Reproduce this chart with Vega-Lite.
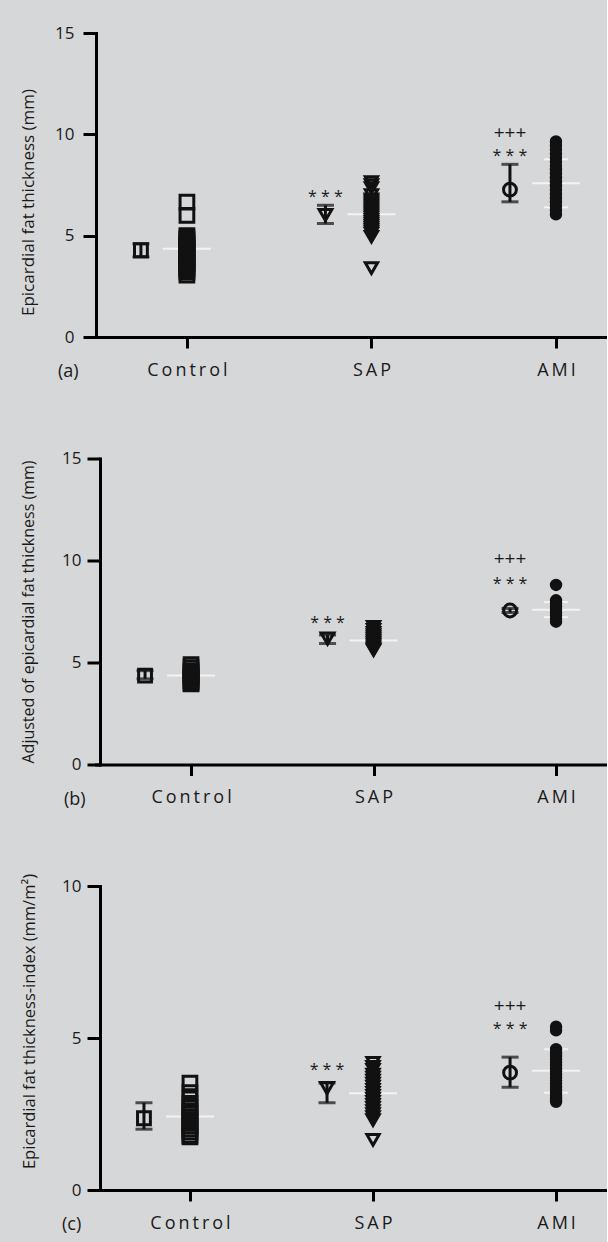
{
"$schema":"https://vega.github.io/schema/vega-lite/v6.json",
"background":"#d6d7d9",
"padding":{"left":19,"top":24,"right":0,"bottom":10},
"config":{"font":"Open Sans","view":{"stroke":null},
 "axis":{"domainColor":"#000","domainWidth":3,"domainCap":"square","tickColor":"#000","tickWidth":3,"grid":false,"labelColor":"#1a1a1a","titleColor":"#1a1a1a","labelFont":"Open Sans","titleFont":"Open Sans","titleFontWeight":"normal","labelFontSize":17},
 "axisX":{"title":null,"labelAngle":0,"tickSize":11,"labelPadding":13,"labelFontSize":18,"labelExpr":"join(split(datum.label,''),'\u2009')"},
 "title":{"font":"Open Sans","fontSize":18,"fontWeight":"normal","color":"#1a1a1a"}},
"datasets":{
"points":[
{"p":"a","g":"Control","v":6.65},{"p":"a","g":"Control","v":6.0},{"p":"a","g":"Control","v":5.0},{"p":"a","g":"Control","v":4.9},{"p":"a","g":"Control","v":4.8},{"p":"a","g":"Control","v":4.7},{"p":"a","g":"Control","v":4.6},{"p":"a","g":"Control","v":4.5},{"p":"a","g":"Control","v":4.4},{"p":"a","g":"Control","v":4.3},{"p":"a","g":"Control","v":4.2},{"p":"a","g":"Control","v":4.1},{"p":"a","g":"Control","v":4.0},{"p":"a","g":"Control","v":3.9},{"p":"a","g":"Control","v":3.8},{"p":"a","g":"Control","v":3.7},{"p":"a","g":"Control","v":3.6},{"p":"a","g":"Control","v":3.5},{"p":"a","g":"Control","v":3.4},{"p":"a","g":"Control","v":3.3},{"p":"a","g":"Control","v":3.2},{"p":"a","g":"Control","v":3.05},
{"p":"a","g":"SAP","v":7.65},{"p":"a","g":"SAP","v":7.5},{"p":"a","g":"SAP","v":7.35},{"p":"a","g":"SAP","v":7.0},{"p":"a","g":"SAP","v":6.8},{"p":"a","g":"SAP","v":6.7},{"p":"a","g":"SAP","v":6.6},{"p":"a","g":"SAP","v":6.5},{"p":"a","g":"SAP","v":6.4},{"p":"a","g":"SAP","v":6.3},{"p":"a","g":"SAP","v":6.2},{"p":"a","g":"SAP","v":6.1},{"p":"a","g":"SAP","v":6.0},{"p":"a","g":"SAP","v":5.9},{"p":"a","g":"SAP","v":5.8},{"p":"a","g":"SAP","v":5.7},{"p":"a","g":"SAP","v":5.6},{"p":"a","g":"SAP","v":5.5},{"p":"a","g":"SAP","v":5.4},{"p":"a","g":"SAP","v":5.3},{"p":"a","g":"SAP","v":5.2},{"p":"a","g":"SAP","v":5.1},{"p":"a","g":"SAP","v":4.95},{"p":"a","g":"SAP","v":3.4},
{"p":"a","g":"AMI","v":9.65},{"p":"a","g":"AMI","v":9.45},{"p":"a","g":"AMI","v":9.25},{"p":"a","g":"AMI","v":9.05},{"p":"a","g":"AMI","v":8.85},{"p":"a","g":"AMI","v":8.65},{"p":"a","g":"AMI","v":8.45},{"p":"a","g":"AMI","v":8.25},{"p":"a","g":"AMI","v":8.05},{"p":"a","g":"AMI","v":7.85},{"p":"a","g":"AMI","v":7.65},{"p":"a","g":"AMI","v":7.45},{"p":"a","g":"AMI","v":7.25},{"p":"a","g":"AMI","v":7.05},{"p":"a","g":"AMI","v":6.85},{"p":"a","g":"AMI","v":6.65},{"p":"a","g":"AMI","v":6.45},{"p":"a","g":"AMI","v":6.25},{"p":"a","g":"AMI","v":6.05},
{"p":"b","g":"Control","v":4.9},{"p":"b","g":"Control","v":4.75},{"p":"b","g":"Control","v":4.6},{"p":"b","g":"Control","v":4.5},{"p":"b","g":"Control","v":4.4},{"p":"b","g":"Control","v":4.3},{"p":"b","g":"Control","v":4.2},{"p":"b","g":"Control","v":4.1},{"p":"b","g":"Control","v":4.0},{"p":"b","g":"Control","v":3.95},
{"p":"b","g":"SAP","v":6.75},{"p":"b","g":"SAP","v":6.6},{"p":"b","g":"SAP","v":6.45},{"p":"b","g":"SAP","v":6.35},{"p":"b","g":"SAP","v":6.25},{"p":"b","g":"SAP","v":6.15},{"p":"b","g":"SAP","v":6.05},{"p":"b","g":"SAP","v":5.95},{"p":"b","g":"SAP","v":5.85},{"p":"b","g":"SAP","v":5.75},{"p":"b","g":"SAP","v":5.65},{"p":"b","g":"SAP","v":5.6},
{"p":"b","g":"AMI","v":8.8},{"p":"b","g":"AMI","v":8.05},{"p":"b","g":"AMI","v":7.9},{"p":"b","g":"AMI","v":7.75},{"p":"b","g":"AMI","v":7.6},{"p":"b","g":"AMI","v":7.45},{"p":"b","g":"AMI","v":7.3},{"p":"b","g":"AMI","v":7.15},{"p":"b","g":"AMI","v":7.0},
{"p":"c","g":"Control","v":3.52},{"p":"c","g":"Control","v":3.2},{"p":"c","g":"Control","v":3.0},{"p":"c","g":"Control","v":2.85},{"p":"c","g":"Control","v":2.7},{"p":"c","g":"Control","v":2.6},{"p":"c","g":"Control","v":2.5},{"p":"c","g":"Control","v":2.4},{"p":"c","g":"Control","v":2.3},{"p":"c","g":"Control","v":2.2},{"p":"c","g":"Control","v":2.1},{"p":"c","g":"Control","v":2.0},{"p":"c","g":"Control","v":1.9},{"p":"c","g":"Control","v":1.8},{"p":"c","g":"Control","v":1.75},
{"p":"c","g":"SAP","v":4.18},{"p":"c","g":"SAP","v":4.05},{"p":"c","g":"SAP","v":3.95},{"p":"c","g":"SAP","v":3.8},{"p":"c","g":"SAP","v":3.7},{"p":"c","g":"SAP","v":3.6},{"p":"c","g":"SAP","v":3.5},{"p":"c","g":"SAP","v":3.4},{"p":"c","g":"SAP","v":3.3},{"p":"c","g":"SAP","v":3.2},{"p":"c","g":"SAP","v":3.1},{"p":"c","g":"SAP","v":3.0},{"p":"c","g":"SAP","v":2.9},{"p":"c","g":"SAP","v":2.8},{"p":"c","g":"SAP","v":2.7},{"p":"c","g":"SAP","v":2.6},{"p":"c","g":"SAP","v":2.5},{"p":"c","g":"SAP","v":2.4},{"p":"c","g":"SAP","v":2.3},{"p":"c","g":"SAP","v":1.65},
{"p":"c","g":"AMI","v":5.37},{"p":"c","g":"AMI","v":5.25},{"p":"c","g":"AMI","v":4.63},{"p":"c","g":"AMI","v":4.5},{"p":"c","g":"AMI","v":4.4},{"p":"c","g":"AMI","v":4.3},{"p":"c","g":"AMI","v":4.2},{"p":"c","g":"AMI","v":4.1},{"p":"c","g":"AMI","v":4.0},{"p":"c","g":"AMI","v":3.9},{"p":"c","g":"AMI","v":3.8},{"p":"c","g":"AMI","v":3.7},{"p":"c","g":"AMI","v":3.6},{"p":"c","g":"AMI","v":3.5},{"p":"c","g":"AMI","v":3.4},{"p":"c","g":"AMI","v":3.3},{"p":"c","g":"AMI","v":3.2},{"p":"c","g":"AMI","v":3.1},{"p":"c","g":"AMI","v":3.0},{"p":"c","g":"AMI","v":2.9}
],
"lines":[
{"p":"a","g":"Control","k":"mean","v":4.35},{"p":"a","g":"SAP","k":"mean","v":6.06},{"p":"a","g":"AMI","k":"mean","v":7.59},{"p":"a","g":"AMI","k":"sd","v":8.77},{"p":"a","g":"AMI","k":"sd","v":6.4},
{"p":"b","g":"Control","k":"mean","v":4.36},{"p":"b","g":"SAP","k":"mean","v":6.08},{"p":"b","g":"AMI","k":"mean","v":7.58},{"p":"b","g":"AMI","k":"sd","v":7.96},{"p":"b","g":"AMI","k":"sd","v":7.22},
{"p":"c","g":"Control","k":"mean","v":2.42},{"p":"c","g":"SAP","k":"mean","v":3.18},{"p":"c","g":"AMI","k":"mean","v":3.92},{"p":"c","g":"AMI","k":"sd","v":4.63},{"p":"c","g":"AMI","k":"sd","v":3.2}
],
"summary":[
{"p":"a","g":"Control","mean":4.28,"lo":3.95,"hi":4.6},{"p":"a","g":"SAP","mean":6.02,"lo":5.6,"hi":6.5},{"p":"a","g":"AMI","mean":7.27,"lo":6.67,"hi":8.52},
{"p":"b","g":"Control","mean":4.36,"lo":4.2,"hi":4.6},{"p":"b","g":"SAP","mean":6.17,"lo":5.93,"hi":6.35},{"p":"b","g":"AMI","mean":7.55,"lo":7.45,"hi":7.65},
{"p":"c","g":"Control","mean":2.36,"lo":2.0,"hi":2.87},{"p":"c","g":"SAP","mean":3.35,"lo":2.87,"hi":3.52},{"p":"c","g":"AMI","mean":3.86,"lo":3.38,"hi":4.37}
],
"notes":[
{"p":"a","g":"SAP","v":7.05,"t":"* * *"},{"p":"a","g":"AMI","v":10.08,"t":"+++"},{"p":"a","g":"AMI","v":9.1,"t":"* * *"},
{"p":"b","g":"SAP","v":7.06,"t":"* * *"},{"p":"b","g":"AMI","v":10.05,"t":"+++"},{"p":"b","g":"AMI","v":8.99,"t":"* * *"},
{"p":"c","g":"SAP","v":4.04,"t":"* * *"},{"p":"c","g":"AMI","v":6.06,"t":"+++"},{"p":"c","g":"AMI","v":5.4,"t":"* * *"}
]
},
"concat":[
{
 "width":510,"height":304,
 "title":{"text":"(a)","orient":"bottom","anchor":"start","frame":"group","dx":-38,"dy":-20},
 "encoding":{"x":{"field":"g","type":"nominal","scale":{"type":"point","domain":["Control","SAP","AMI"],"padding":0.382,"align":0.645}}},
 "layer":[
  {"data":{"name":"lines"},"transform":[{"filter":"datum.p==='a' && datum.k==='mean'"}],"mark":{"type":"tick","color":"#ffffff","size":48,"thickness":2,"orient":"horizontal"},
   "encoding":{"y":{"field":"v","type":"quantitative","scale":{"domain":[0,15],"nice":false},"axis":{"title":"Epicardial fat thickness (mm)","values":[0,5,10,15],"tickSize":13,"labelPadding":9,"titlePadding":17,"titleFontSize":17,"titleY":169}}}},
  {"data":{"name":"lines"},"transform":[{"filter":"datum.p==='a' && datum.k==='sd'"}],"mark":{"type":"tick","color":"#ffffff","size":24,"thickness":2,"orient":"horizontal"},"encoding":{"y":{"field":"v","type":"quantitative"}}},
  {"data":{"name":"points"},"transform":[{"filter":"datum.p==='a' && datum.g==='Control'"}],"mark":{"type":"point","shape":"square","size":188,"filled":false,"stroke":"#111","strokeWidth":3,"opacity":1},"encoding":{"y":{"field":"v","type":"quantitative"}}},
  {"data":{"name":"points"},"transform":[{"filter":"datum.p==='a' && datum.g==='SAP'"}],"mark":{"type":"point","shape":"triangle-down","size":150,"filled":false,"stroke":"#111","strokeWidth":3,"opacity":1},"encoding":{"y":{"field":"v","type":"quantitative"}}},
  {"data":{"name":"points"},"transform":[{"filter":"datum.p==='a' && datum.g==='AMI'"}],"mark":{"type":"point","shape":"circle","size":154,"filled":true,"color":"#111","opacity":1},"encoding":{"y":{"field":"v","type":"quantitative"}}},
  {"data":{"name":"summary"},"transform":[{"filter":"datum.p==='a'"}],"mark":{"type":"rule","color":"#111","strokeWidth":3,"xOffset":-46},"encoding":{"y":{"field":"lo","type":"quantitative"},"y2":{"field":"hi"}}},
  {"data":{"name":"summary"},"transform":[{"filter":"datum.p==='a'"}],"mark":{"type":"tick","color":"#111","size":17,"thickness":3,"orient":"horizontal","xOffset":-46},"encoding":{"y":{"field":"lo","type":"quantitative"}}},
  {"data":{"name":"summary"},"transform":[{"filter":"datum.p==='a'"}],"mark":{"type":"tick","color":"#111","size":17,"thickness":3,"orient":"horizontal","xOffset":-46},"encoding":{"y":{"field":"hi","type":"quantitative"}}},
  {"data":{"name":"summary"},"transform":[{"filter":"datum.p==='a'"}],"mark":{"type":"point","size":165,"filled":false,"stroke":"#111","strokeWidth":3,"opacity":1,"xOffset":-46},"encoding":{"y":{"field":"mean","type":"quantitative"},"shape":{"field":"g","type":"nominal","scale":{"domain":["Control","SAP","AMI"],"range":["square","triangle-down","circle"]},"legend":null}}},
  {"data":{"name":"notes"},"transform":[{"filter":"datum.p==='a' && datum.t==='* * *'"}],"mark":{"type":"text","fontSize":16,"color":"#1a1a1a","xOffset":-46,"baseline":"middle","dy":3},"encoding":{"y":{"field":"v","type":"quantitative"},"text":{"field":"t"}}},
  {"data":{"name":"notes"},"transform":[{"filter":"datum.p==='a' && datum.t==='+++'"}],"mark":{"type":"text","fontSize":19,"color":"#1a1a1a","xOffset":-46,"baseline":"middle","dy":0},"encoding":{"y":{"field":"v","type":"quantitative"},"text":{"field":"t"}}}
 ]
},
{
 "width":511,"height":306,
 "title":{"text":"(b)","orient":"bottom","anchor":"start","frame":"group","dx":-32,"dy":-20},
 "encoding":{"x":{"field":"g","type":"nominal","scale":{"type":"point","domain":["Control","SAP","AMI"],"padding":0.4,"align":0.651}}},
 "layer":[
  {"data":{"name":"lines"},"transform":[{"filter":"datum.p==='b' && datum.k==='mean'"}],"mark":{"type":"tick","color":"#ffffff","size":48,"thickness":2,"orient":"horizontal"},
   "encoding":{"y":{"field":"v","type":"quantitative","scale":{"domain":[0,15],"nice":false},"axis":{"title":"Adjusted of epicardial fat thickness (mm)","values":[0,5,10,15],"offset":-4,"tickSize":13,"labelPadding":6,"titlePadding":25,"titleFontSize":16}}}},
  {"data":{"name":"lines"},"transform":[{"filter":"datum.p==='b' && datum.k==='sd'"}],"mark":{"type":"tick","color":"#ffffff","size":24,"thickness":2,"orient":"horizontal"},"encoding":{"y":{"field":"v","type":"quantitative"}}},
  {"data":{"name":"points"},"transform":[{"filter":"datum.p==='b' && datum.g==='Control'"}],"mark":{"type":"point","shape":"square","size":188,"filled":false,"stroke":"#111","strokeWidth":3,"opacity":1},"encoding":{"y":{"field":"v","type":"quantitative"}}},
  {"data":{"name":"points"},"transform":[{"filter":"datum.p==='b' && datum.g==='SAP'"}],"mark":{"type":"point","shape":"triangle-down","size":150,"filled":false,"stroke":"#111","strokeWidth":3,"opacity":1},"encoding":{"y":{"field":"v","type":"quantitative"}}},
  {"data":{"name":"points"},"transform":[{"filter":"datum.p==='b' && datum.g==='AMI'"}],"mark":{"type":"point","shape":"circle","size":154,"filled":true,"color":"#111","opacity":1},"encoding":{"y":{"field":"v","type":"quantitative"}}},
  {"data":{"name":"summary"},"transform":[{"filter":"datum.p==='b'"}],"mark":{"type":"rule","color":"#111","strokeWidth":3,"xOffset":-46},"encoding":{"y":{"field":"lo","type":"quantitative"},"y2":{"field":"hi"}}},
  {"data":{"name":"summary"},"transform":[{"filter":"datum.p==='b'"}],"mark":{"type":"tick","color":"#111","size":17,"thickness":3,"orient":"horizontal","xOffset":-46},"encoding":{"y":{"field":"lo","type":"quantitative"}}},
  {"data":{"name":"summary"},"transform":[{"filter":"datum.p==='b'"}],"mark":{"type":"tick","color":"#111","size":17,"thickness":3,"orient":"horizontal","xOffset":-46},"encoding":{"y":{"field":"hi","type":"quantitative"}}},
  {"data":{"name":"summary"},"transform":[{"filter":"datum.p==='b'"}],"mark":{"type":"point","size":165,"filled":false,"stroke":"#111","strokeWidth":3,"opacity":1,"xOffset":-46},"encoding":{"y":{"field":"mean","type":"quantitative"},"shape":{"field":"g","type":"nominal","scale":{"domain":["Control","SAP","AMI"],"range":["square","triangle-down","circle"]},"legend":null}}},
  {"data":{"name":"notes"},"transform":[{"filter":"datum.p==='b' && datum.t==='* * *'"}],"mark":{"type":"text","fontSize":16,"color":"#1a1a1a","xOffset":-46,"baseline":"middle","dy":3},"encoding":{"y":{"field":"v","type":"quantitative"},"text":{"field":"t"}}},
  {"data":{"name":"notes"},"transform":[{"filter":"datum.p==='b' && datum.t==='+++'"}],"mark":{"type":"text","fontSize":19,"color":"#1a1a1a","xOffset":-46,"baseline":"middle","dy":0},"encoding":{"y":{"field":"v","type":"quantitative"},"text":{"field":"t"}}}
 ]
},
{
 "width":510,"height":304,
 "title":{"text":"(c)","orient":"bottom","anchor":"start","frame":"group","dx":-34,"dy":-20},
 "encoding":{"x":{"field":"g","type":"nominal","scale":{"type":"point","domain":["Control","SAP","AMI"],"padding":0.393,"align":0.653}}},
 "layer":[
  {"data":{"name":"lines"},"transform":[{"filter":"datum.p==='c' && datum.k==='mean'"}],"mark":{"type":"tick","color":"#ffffff","size":48,"thickness":2,"orient":"horizontal"},
   "encoding":{"y":{"field":"v","type":"quantitative","scale":{"domain":[0,10],"nice":false},"axis":{"title":"Epicardial fat thickness-index (mm/m²)","values":[0,5,10],"offset":-4,"tickSize":13,"labelPadding":6,"titlePadding":24,"titleFontSize":16.5,"titleY":135}}}},
  {"data":{"name":"lines"},"transform":[{"filter":"datum.p==='c' && datum.k==='sd'"}],"mark":{"type":"tick","color":"#ffffff","size":24,"thickness":2,"orient":"horizontal"},"encoding":{"y":{"field":"v","type":"quantitative"}}},
  {"data":{"name":"points"},"transform":[{"filter":"datum.p==='c' && datum.g==='Control'"}],"mark":{"type":"point","shape":"square","size":188,"filled":false,"stroke":"#111","strokeWidth":3,"opacity":1},"encoding":{"y":{"field":"v","type":"quantitative"}}},
  {"data":{"name":"points"},"transform":[{"filter":"datum.p==='c' && datum.g==='SAP'"}],"mark":{"type":"point","shape":"triangle-down","size":150,"filled":false,"stroke":"#111","strokeWidth":3,"opacity":1},"encoding":{"y":{"field":"v","type":"quantitative"}}},
  {"data":{"name":"points"},"transform":[{"filter":"datum.p==='c' && datum.g==='AMI'"}],"mark":{"type":"point","shape":"circle","size":154,"filled":true,"color":"#111","opacity":1},"encoding":{"y":{"field":"v","type":"quantitative"}}},
  {"data":{"name":"summary"},"transform":[{"filter":"datum.p==='c'"}],"mark":{"type":"rule","color":"#111","strokeWidth":3,"xOffset":-46},"encoding":{"y":{"field":"lo","type":"quantitative"},"y2":{"field":"hi"}}},
  {"data":{"name":"summary"},"transform":[{"filter":"datum.p==='c'"}],"mark":{"type":"tick","color":"#111","size":17,"thickness":3,"orient":"horizontal","xOffset":-46},"encoding":{"y":{"field":"lo","type":"quantitative"}}},
  {"data":{"name":"summary"},"transform":[{"filter":"datum.p==='c'"}],"mark":{"type":"tick","color":"#111","size":17,"thickness":3,"orient":"horizontal","xOffset":-46},"encoding":{"y":{"field":"hi","type":"quantitative"}}},
  {"data":{"name":"summary"},"transform":[{"filter":"datum.p==='c'"}],"mark":{"type":"point","size":165,"filled":false,"stroke":"#111","strokeWidth":3,"opacity":1,"xOffset":-46},"encoding":{"y":{"field":"mean","type":"quantitative"},"shape":{"field":"g","type":"nominal","scale":{"domain":["Control","SAP","AMI"],"range":["square","triangle-down","circle"]},"legend":null}}},
  {"data":{"name":"notes"},"transform":[{"filter":"datum.p==='c' && datum.t==='* * *'"}],"mark":{"type":"text","fontSize":16,"color":"#1a1a1a","xOffset":-46,"baseline":"middle","dy":3},"encoding":{"y":{"field":"v","type":"quantitative"},"text":{"field":"t"}}},
  {"data":{"name":"notes"},"transform":[{"filter":"datum.p==='c' && datum.t==='+++'"}],"mark":{"type":"text","fontSize":19,"color":"#1a1a1a","xOffset":-46,"baseline":"middle","dy":0},"encoding":{"y":{"field":"v","type":"quantitative"},"text":{"field":"t"}}}
 ]
}
],
"columns":1,
"align":"none",
"bounds":"flush",
"spacing":121.5
}
